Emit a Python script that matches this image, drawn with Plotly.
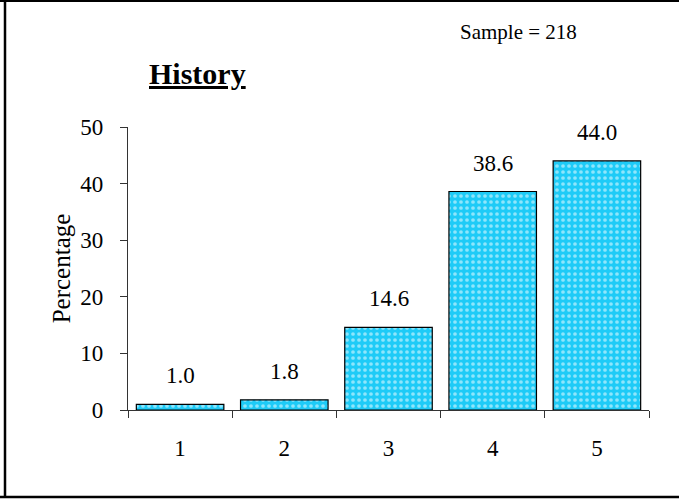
import plotly.graph_objects as go

categories = ["1", "2", "3", "4", "5"]
values = [1.0, 1.8, 14.6, 38.6, 44.0]
labels = ["1.0", "1.8", "14.6", "38.6", "44.0"]
y_ticks = [0, 10, 20, 30, 40, 50]

FONT = "Liberation Serif, Times New Roman, serif"

fig = go.Figure()
fig.add_trace(go.Bar(
    x=categories, y=values,
    marker=dict(color="#1ECBF7", line=dict(color="black", width=1.2),
                pattern=dict(shape=".", fgcolor="white", bgcolor="#1ECBF7",
                             size=6, solidity=0.3)),
    hoverinfo="skip",
))

for i, (v, t) in enumerate(zip(values, labels)):
    fig.add_annotation(x=i, y=v, text=t, showarrow=False, yanchor="bottom",
                       yshift=14, font=dict(family=FONT, size=23, color="black"))

fig.add_annotation(xref="paper", yref="paper", x=(197 - 128) / 521, y=(410 - 73) / 283,
                   xanchor="center", yanchor="middle",
                   text="<b><u>History</u></b>", showarrow=False,
                   font=dict(family=FONT, size=30, color="black"))
fig.add_annotation(xref="paper", yref="paper", x=(518 - 128) / 521, y=(410 - 32) / 283,
                   xanchor="center", yanchor="middle",
                   text="Sample = 218", showarrow=False,
                   font=dict(family=FONT, size=21, color="black"))

# outer frame
def px_x(p):
    return (p - 128) / 521

def px_y(p):
    return (410 - p) / 283

for x0, y0, x1, y1, w in [
    (0, 1, 679, 1, 2),
    (5, 0, 5, 497, 2.5),
    (0, 497, 679, 497, 2.5),
]:
    fig.add_shape(type="line", xref="paper", yref="paper",
                  x0=px_x(x0), y0=px_y(y0), x1=px_x(x1), y1=px_y(y1),
                  line=dict(color="black", width=w))

fig.update_layout(
    width=679, height=503,
    margin=dict(l=128, r=30, t=127, b=93),
    paper_bgcolor="white", plot_bgcolor="white",
    bargap=0.16, showlegend=False,
    font=dict(family=FONT, size=23, color="black"),
)
fig.update_xaxes(type="category", showline=True, linecolor="#333", linewidth=1.2,
                 ticks="outside", tickson="boundaries", ticklen=7, tickcolor="#333",
                 showgrid=False, tickfont=dict(family=FONT, size=23), ticklabelstandoff=17)
fig.update_yaxes(range=[0, 50], tickvals=y_ticks, showline=True, linecolor="#333",
                 linewidth=1.2, ticks="outside", ticklen=7, tickcolor="#333",
                 showgrid=False, zeroline=False, tickfont=dict(family=FONT, size=23),
                 ticklabelstandoff=12,
                 title=dict(text="Percentage", font=dict(family=FONT, size=25), standoff=2))

fig.write_html("out.html", config={"displayModeBar": False})
